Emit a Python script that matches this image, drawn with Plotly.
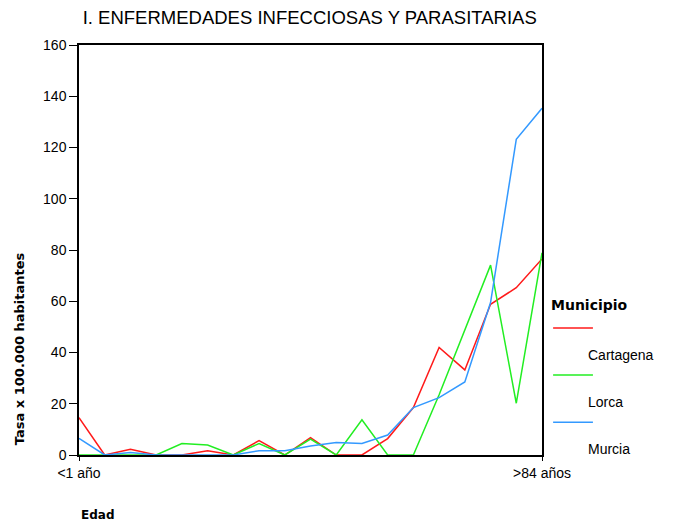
import plotly.graph_objects as go

edades = ["<1 año", "1-4", "5-9", "10-14", "15-19", "20-24", "25-29", "30-34", "35-39",
          "40-44", "45-49", "50-54", "55-59", "60-64", "65-69", "70-74", "75-79", "80-84",
          ">84 años"]
cartagena = [14.6, 0, 2.2, 0, 0, 1.7, 0, 5.6, 0, 6.8, 0, 0, 6.4, 18.5, 42.0, 33.2, 58.8, 65.3, 76.5]
lorca = [0, 0, 0, 0, 4.5, 3.9, 0, 4.5, 0, 6.2, 0, 13.7, 0, 0, 23.5, 48.5, 74.1, 20.2, 78.9]
murcia = [6.5, 0, 1.0, 0, 0, 0, 0, 1.7, 1.7, 3.5, 4.9, 4.5, 7.8, 18.5, 22.4, 28.5, 59.5, 123.2, 135.3]

series = [("Cartagena", cartagena, "#ff1a1a"),
          ("Lorca", lorca, "#22ee22"),
          ("Murcia", murcia, "#3399ff")]

FONT = "Liberation Sans, Arial, sans-serif"
BOLD = "DejaVu Sans, Arial Black, sans-serif"

fig = go.Figure()
for name, vals, col in series:
    fig.add_trace(go.Scatter(x=edades, y=vals, mode="lines", name=name,
                             line=dict(color=col, width=1.5), cliponaxis=False,
                             showlegend=False))

# page body has an 8px margin, so the figure is 8px smaller and shifted
fig.update_layout(
    width=669, height=518,
    margin=dict(l=71, r=135, t=37, b=71),
    paper_bgcolor="white", plot_bgcolor="white",
    font=dict(family=FONT, size=14, color="black"),
    title=dict(text="I. ENFERMEDADES INFECCIOSAS Y PARASITARIAS", x=0.451, xanchor="center",
               y=0.981, yanchor="middle", font=dict(size=18.5, family=FONT)),
)
fig.update_xaxes(type="category", range=[0, len(edades) - 1], tickmode="array",
                 tickvals=[edades[0], edades[-1]], ticktext=[edades[0], edades[-1]],
                 ticks="outside", ticklen=4, tickcolor="black", showgrid=False,
                 showline=True, linecolor="black", linewidth=1.5, mirror=True,
                 layer="below traces", tickfont=dict(size=14))
fig.update_yaxes(range=[0, 160], tickvals=[0, 20, 40, 60, 80, 100, 120, 140, 160],
                 ticks="outside", ticklen=8, tickcolor="black", showgrid=False, zeroline=False,
                 showline=True, linecolor="black", linewidth=1.5, mirror=True,
                 layer="below traces", tickfont=dict(size=14))

# axis titles
fig.add_annotation(text="<b>Tasa x 100.000 habitantes</b>", xref="paper", yref="paper",
                   x=-0.128, y=0.26, textangle=-90, showarrow=False,
                   font=dict(size=13, family=BOLD), xanchor="center", yanchor="middle")
fig.add_annotation(text="<b>Edad</b>", xref="paper", yref="paper", x=0.0, y=-0.146,
                   showarrow=False, font=dict(size=12, family=BOLD), xanchor="left",
                   yanchor="middle")

# legend
fig.add_annotation(text="<b>Municipio</b>", xref="paper", yref="paper", x=1.015, y=0.366,
                   showarrow=False, font=dict(size=14, family=BOLD), xanchor="left",
                   yanchor="middle")
y_line = [0.310, 0.195, 0.080]
y_text = [0.244, 0.129, 0.015]
for (name, vals, col), yl, yt in zip(series, y_line, y_text):
    fig.add_shape(type="line", xref="paper", yref="paper", x0=1.024, x1=1.110, y0=yl, y1=yl,
                  line=dict(color=col, width=1.5))
    fig.add_annotation(text=name, xref="paper", yref="paper", x=1.095, y=yt, showarrow=False,
                       font=dict(size=14, family=FONT), xanchor="left", yanchor="middle")

fig.write_html("out.html")
